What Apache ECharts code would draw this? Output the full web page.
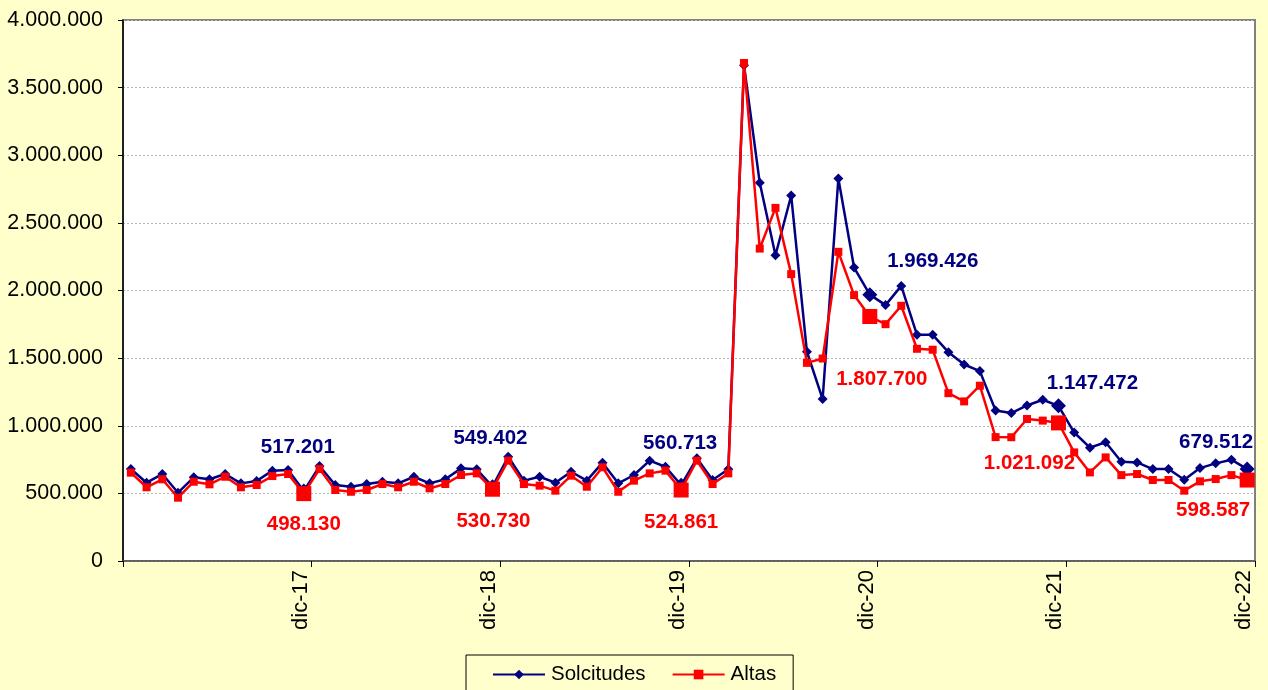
<!DOCTYPE html>
<html>
<head>
<meta charset="utf-8">
<script src="https://cdn.jsdelivr.net/npm/echarts@6/dist/echarts.min.js"></script>
<style>
html,body{margin:0;padding:0;background:#FFFFCC;}
#chart{width:1268px;height:690px;}
</style>
</head>
<body>
<div id="chart"></div>
<script>
// Monthly data, ene-17 .. dic-22 (72 months)
const solicitudes = [
  680000, 579000, 643000, 505000, 619000, 604000, 643000, 574000, 591000, 668000, 673000, 517201,
  702000, 562000, 549000, 569000, 586000, 574000, 623000, 574000, 604000, 685000, 678000, 549402,
  771000, 594000, 623000, 579000, 660000, 594000, 727000, 574000, 636000, 742000, 697000, 560713,
  759000, 599000, 678000, 3665000, 2796000, 2261000, 2702000, 1547000, 1197000, 2828000, 2170000, 1969426,
  1892000, 2034000, 1672000, 1672000, 1544000, 1453000, 1404000, 1113000, 1094000, 1150000, 1192000, 1147472,
  950000, 838000, 878000, 734000, 729000, 680000, 680000, 601000, 687000, 722000, 749000, 679512
];
const altas = [
  653000, 545000, 604000, 468000, 586000, 567000, 623000, 545000, 562000, 628000, 643000, 498130,
  680000, 525000, 512000, 525000, 569000, 545000, 586000, 537000, 569000, 636000, 648000, 530730,
  742000, 569000, 557000, 520000, 631000, 549000, 693000, 512000, 594000, 648000, 668000, 524861,
  742000, 569000, 648000, 3682000, 2310000, 2611000, 2121000, 1465000, 1497000, 2286000, 1966000, 1807700,
  1751000, 1887000, 1569000, 1562000, 1241000, 1180000, 1296000, 916000, 915000, 1050000, 1038000, 1021092,
  803000, 655000, 766000, 635000, 643000, 599000, 599000, 520000, 589000, 606000, 635000, 598587
];
const tickLabels = ['dic-17', 'dic-18', 'dic-19', 'dic-20', 'dic-21', 'dic-22'];
const seriesNames = ['Solcitudes', 'Altas'];

// style: label offsets for highlighted December points
const blueLabelOffsets = {11:[-6,-44], 23:[-2,-48], 35:[-1,-42], 47:[63,-33], 59:[34,-22], 71:[-31,-27]};
const redLabelOffsets  = {11:[0,31], 23:[1,32], 35:[0,32], 47:[12,63], 59:[-29,40], 71:[-34,30]};

function fmt(v){
  const s = Math.round(v).toString();
  return s.replace(/\B(?=(\d{3})+(?!\d))/g, '.');
}

function build(values, offsets, color, bigSize){
  return values.map((v, i) => {
    const item = {value: [i + 0.5, v]};
    if (offsets[i]) {
      item.symbolSize = bigSize;
      item.label = {
        show: true,
        position: 'inside',
        offset: offsets[i],
        formatter: fmt(v),
        color: color,
        fontSize: 20.5,
        fontWeight: 'bold',
        fontFamily: 'Liberation Sans, Arial, sans-serif'
      };
    }
    return item;
  });
}

const chart = echarts.init(document.getElementById('chart'), null, {renderer: 'canvas'});
const font = 'Liberation Sans, Arial, sans-serif';
chart.setOption({
  animation: false,
  backgroundColor: '#FFFFCC',
  textStyle: {fontFamily: font},
  grid: {
    left: 123, right: 13, top: 20, bottom: 129,
    show: true, backgroundColor: '#FFFFFF', borderColor: '#808080', borderWidth: 2
  },
  legend: {
    left: 466, top: 655,
    padding: [9, 17, 20, 26],
    itemGap: 26,
    itemWidth: 52, itemHeight: 12,
    borderColor: '#000', borderWidth: 1,
    textStyle: {fontSize: 20.5, color: '#000', fontFamily: font, padding: [0, 0, 0, 1]},
    data: seriesNames
  },
  xAxis: {
    type: 'value', min: 0, max: 72, interval: 12,
    axisLine: {show: true, lineStyle: {color: '#555', width: 1.5}},
    axisTick: {show: true, length: 6, lineStyle: {color: '#000'}},
    splitLine: {show: false},
    axisLabel: {
      rotate: 90, margin: 9, fontSize: 22, color: '#000', fontFamily: font,
      verticalAlign: 'bottom',
      showMinLabel: true, showMaxLabel: true,
      formatter: v => (v > 0 ? tickLabels[v / 12 - 1] : '')
    }
  },
  yAxis: {
    type: 'value', min: 0, max: 4000000, interval: 500000,
    axisLine: {show: true, lineStyle: {color: '#000', width: 1.5}},
    axisTick: {show: true, length: 5, lineStyle: {color: '#000'}},
    splitLine: {show: true, lineStyle: {color: '#B4B4B4', type: [2, 2], width: 1}},
    axisLabel: {fontSize: 21.5, color: '#000', margin: 20, fontFamily: font, formatter: v => fmt(v)}
  },
  series: [
    {
      name: seriesNames[0], type: 'line',
      data: build(solicitudes, blueLabelOffsets, '#000080', 15),
      symbol: 'diamond', symbolSize: 10,
      lineStyle: {color: '#000080', width: 2.5},
      itemStyle: {color: '#000080'},
      z: 2
    },
    {
      name: seriesNames[1], type: 'line',
      data: build(altas, redLabelOffsets, '#FF0000', 15),
      symbol: 'rect', symbolSize: 8,
      lineStyle: {color: '#FF0000', width: 2.5},
      itemStyle: {color: '#FF0000'},
      z: 3
    }
  ]
});
</script>
</body>
</html>
